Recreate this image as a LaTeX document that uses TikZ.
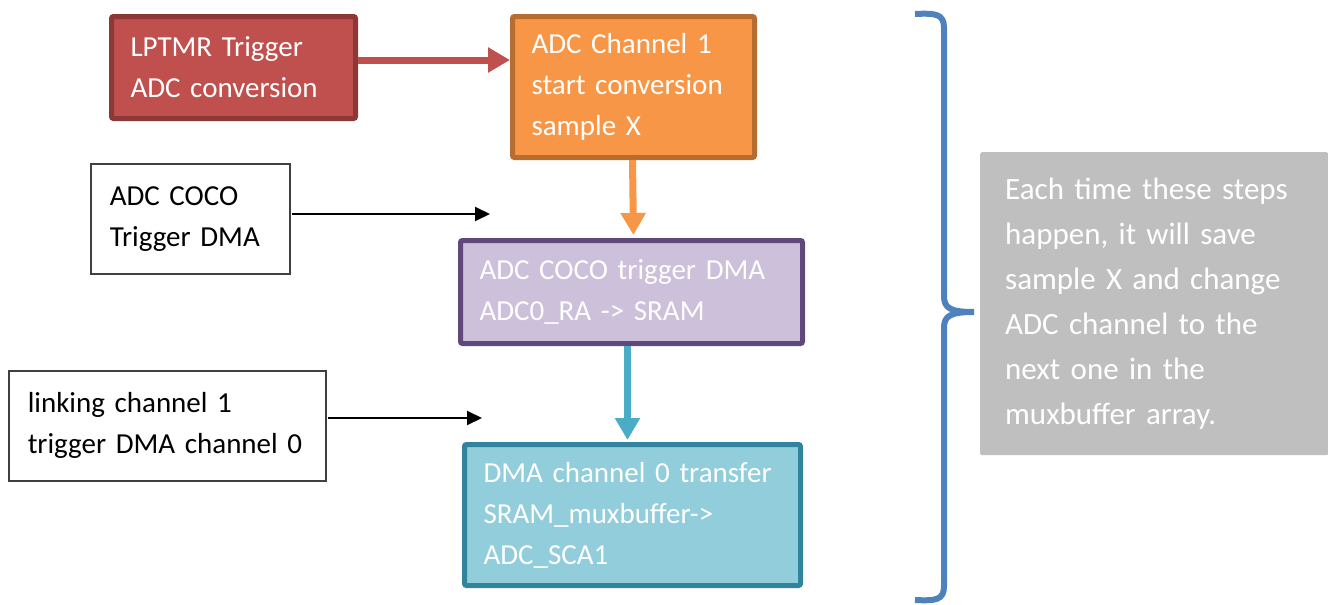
\documentclass[tikz,border=0pt]{standalone}
\usepackage{fontspec}
\setmainfont{Carlito}
\usetikzlibrary{arrows.meta}

\definecolor{lptmrred}{HTML}{C0504D}
\definecolor{lptmrline}{HTML}{8C3836}
\definecolor{adcorange}{HTML}{F79646}
\definecolor{adcline}{HTML}{B66D31}
\definecolor{cocopurple}{HTML}{CCC0DA}
\definecolor{cocoline}{HTML}{5F497A}
\definecolor{dmablue}{HTML}{92CDDC}
\definecolor{dmaline}{HTML}{31849B}
\definecolor{dmaarrow}{HTML}{4BACC6}
\definecolor{notegray}{HTML}{BFBFBF}
\definecolor{braceblue}{HTML}{4F81BD}

\tikzset{
	stepbox/.style={draw, rounded corners=2pt, line width=5pt, align=left, anchor=north west,
		inner xsep=19pt, inner ysep=0pt, text=white, font=\fontsize{29}{41}\selectfont},
	notebox/.style={draw=black!75, line width=1.5pt, align=left, anchor=north west,
		inner xsep=19pt, inner ysep=0pt, font=\fontsize{29}{41}\selectfont},
	flow/.style={line width=7pt, -{Triangle[length=22pt,width=24pt]}},
	trig/.style={line width=2pt, -{Triangle[length=15pt,width=14pt]}},
}

\begin{document}
\begin{tikzpicture}[x=1pt,y=-1pt]
		\useasboundingbox (0,0) rectangle (1328,605);

		\node[stepbox, fill=lptmrred, draw=lptmrline, minimum width=244, minimum height=102, text width=206]
			(lptmr) at (109,14) {LPTMR Trigger\\ADC conversion};
		\node[stepbox, fill=adcorange, draw=adcline, minimum width=242, minimum height=141, text width=204]
			(adcch) at (510,14) {ADC Channel 1\\start conversion\\sample X};
		\node[stepbox, fill=cocopurple, draw=cocoline, minimum width=342, minimum height=103, text width=304]
			(coco) at (458,238) {ADC COCO trigger DMA\\ADC0\_RA -> SRAM};
		\node[stepbox, fill=dmablue, draw=dmaline, minimum width=336, minimum height=141, text width=298]
			(dma) at (462,442) {DMA channel 0 transfer\\SRAM\_muxbuffer->\\ADC\_SCA1};

		\node[notebox, minimum width=199, minimum height=110, text width=161]
			(cocotrig) at (90,163) {ADC COCO\\Trigger DMA};
		\node[notebox, minimum width=317, minimum height=110, text width=279]
			(linktrig) at (8,370) {linking channel 1\\trigger DMA channel 0};

		\node[fill=notegray, rounded corners=2pt, anchor=north west, align=left, inner xsep=25pt, inner ysep=0pt,
			minimum width=348, minimum height=303, text width=298, text=white, font=\fontsize{31}{45}\selectfont]
			(note) at (980,152) {Each time these steps\\happen, it will save\\sample X and change\\ADC channel to the\\next one in the\\muxbuffer array.};

		\coordinate (cocoend) at (490,214);
		\coordinate (linkend) at (482,418);
		\coordinate (adctop) at (615,60);

		\draw[flow, lptmrred] (lptmr.east |- adctop) -- (adcch.west |- adctop);
		\draw[flow, adcorange, shorten >=3pt] ([xshift=-1pt]adcch.south) -- (coco.north -| adcch.south);
		\draw[flow, dmaarrow, shorten >=2pt] ([xshift=-4pt]coco.south) -- ([xshift=-4pt]coco.south |- dma.north);
		\draw[trig] ([xshift=1pt]cocotrig.east |- cocoend) -- (cocoend);
		\draw[trig] ([xshift=1pt]linktrig.east |- linkend) -- (linkend);

		\draw[braceblue, line width=6pt] (915,14) .. controls (936,13) and (944,14) .. (944,28) -- (944,296)
			.. controls (944,308) and (950,312) .. (974,312) .. controls (950,312) and (944,316) .. (944,328)
			-- (944,586) .. controls (944,600) and (936,601) .. (915,600);
	\end{tikzpicture}
\end{document}
